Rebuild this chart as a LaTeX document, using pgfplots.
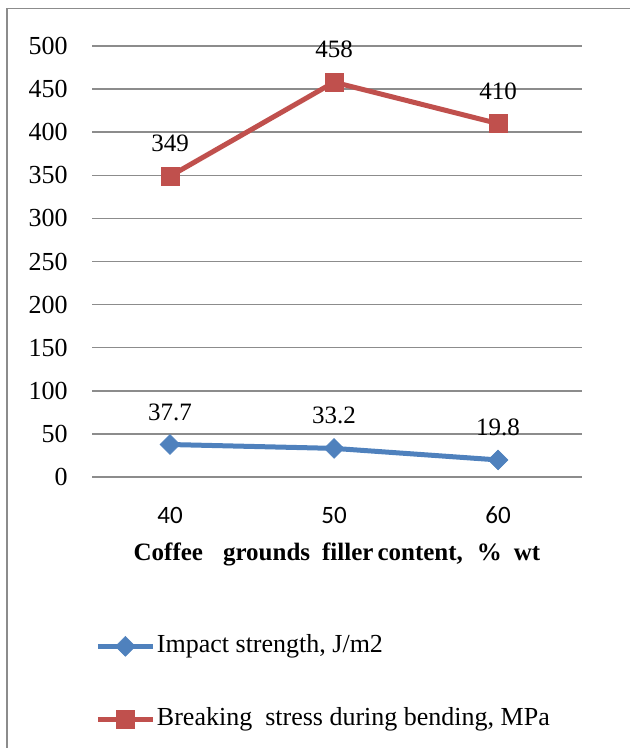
\documentclass[border=0pt]{standalone}
\usepackage{pgfplots}
\pgfplotsset{compat=1.18}
\usepackage{fontspec}
\setmainfont{Liberation Serif}
\newfontfamily\calibri{Carlito}
\definecolor{cblue}{HTML}{4F81BD}
\definecolor{cred}{HTML}{C0504D}
\definecolor{cgrid}{HTML}{8C8C8C}
\begin{document}
\begin{tikzpicture}
\useasboundingbox (0,0) rectangle (315pt,-374pt);
\draw[cgrid, line width=0.8pt] (3.5pt,-380pt) -- (3.5pt,-4.25pt) -- (320pt,-4.25pt);
\begin{axis}[
  at={(46pt,-238.5pt)}, anchor=south west,
  scale only axis, width=245pt, height=215.5pt,
  xmin=35.24, xmax=65.12, ymin=0, ymax=500,
  xtick={40,50,60}, ytick={0,50,...,500},
  axis line style={draw=none},
  major tick length=0pt,
  ymajorgrids, grid style={cgrid, line width=0.7pt},
  /pgf/number format/assume math mode=true,
  yticklabel style={font=\fontsize{13}{15}\selectfont, xshift=-8.7pt},
  xticklabel style={font=\calibri\fontsize{12.5}{15}\selectfont, yshift=-11.5pt},
  xlabel={Coffee\hspace{10pt}grounds\hspace{6pt}filler\hspace{2pt}content,\hspace{7pt}\%\hspace{6pt}wt},
  xlabel style={at={(axis description cs:0.5,0)}, anchor=center, yshift=-38.5pt, font=\bfseries\fontsize{12.5}{15}\selectfont},
  clip=false,
  nodes near coords,
  nodes near coords style={anchor=center, yshift=16.25pt, font=\fontsize{12.5}{15}\selectfont, text=black},
  point meta=explicit symbolic,
  legend cell align=left,
  legend style={draw=none, fill=none, at={(axis description cs:0.0069,-0.358)}, anchor=north west,
    inner sep=0pt, outer sep=0pt, row sep=21.5pt, font=\fontsize{13}{15}\selectfont,
    nodes={text height=9pt, text depth=3pt, inner ysep=1.5pt, inner xsep=0.8pt}},
  legend image code/.code={\draw[mark repeat=2,mark phase=2,#1] plot coordinates {(0pt,0pt) (13.75pt,0pt) (27.5pt,0pt)};},
]
\addplot[cblue, line width=2.5pt, mark=square*, mark size=3.5pt, mark options={rotate=45, line width=0.3pt, fill=cblue, draw=cblue}]
  coordinates {(40,37.7)[37.7] (50,33.2)[33.2] (60,19.8)[19.8]};
\addlegendentry{Impact strength, J/m2}
\addplot[cred, line width=2.5pt, mark=square*, mark size=4.6pt, mark options={line width=0.3pt, fill=cred, draw=cred}]
  coordinates {(40,349)[349] (50,458)[458] (60,410)[410]};
\addlegendentry{Breaking\ \ stress during bending, MPa}
\end{axis}
\end{tikzpicture}
\end{document}
